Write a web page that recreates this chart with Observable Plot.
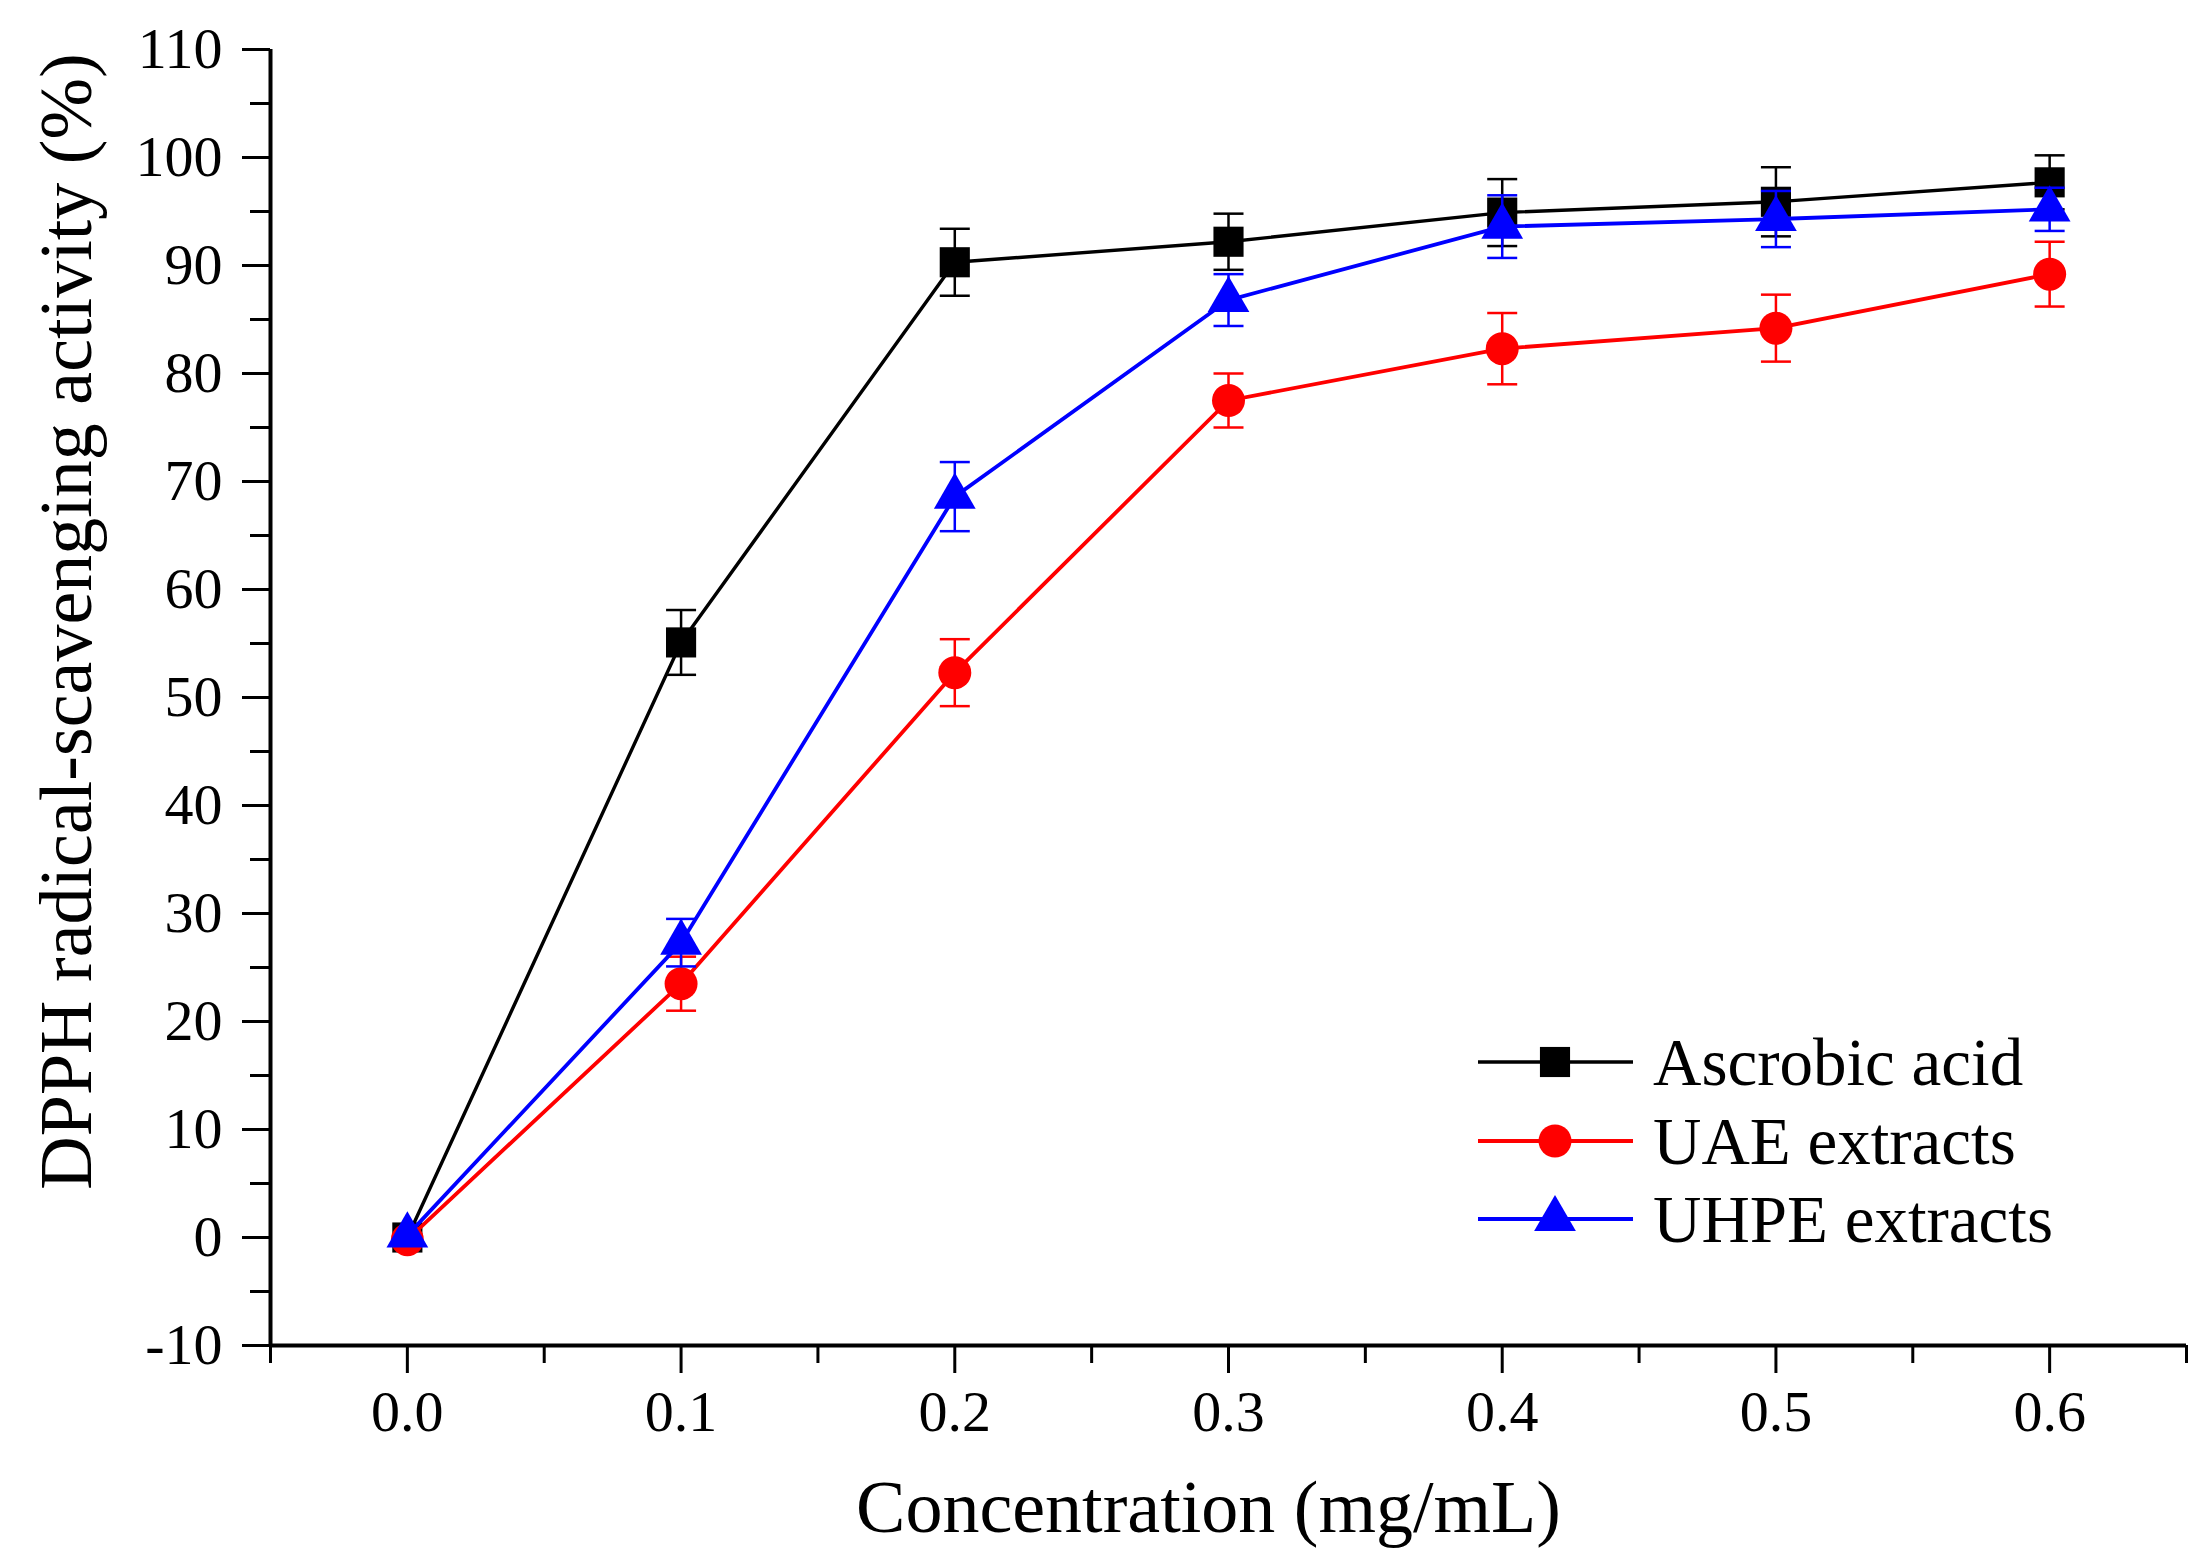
<!DOCTYPE html>
<html><head><meta charset="utf-8">
<script src="https://cdn.jsdelivr.net/npm/d3@7"></script>
<script src="https://cdn.jsdelivr.net/npm/@observablehq/plot@0.6"></script>
<style>
body{margin:0;background:#fff;}
#wrap{position:relative;width:2197px;height:1561px;font-family:"Liberation Serif","Times New Roman",serif;}
#legend{position:absolute;left:0;top:0;}
</style></head><body><div id="wrap"></div>
<script>
// ---- data ----
const concentration = [0, 0.1, 0.2, 0.3, 0.4, 0.5, 0.6];
const ascorbic    = [0, 55.1, 90.3, 92.2, 94.9, 95.9, 97.7];
const ascorbicErr = [0, 3.0, 3.1, 2.6, 3.1, 3.2, 2.5];
const uae         = [-0.2, 23.5, 52.3, 77.5, 82.3, 84.2, 89.2];
const uaeErr      = [0, 2.5, 3.1, 2.5, 3.3, 3.1, 3.0];
const uhpe        = [0.2, 27.3, 68.6, 86.8, 93.6, 94.3, 95.2];
const uhpeErr     = [0, 2.2, 3.2, 2.4, 2.9, 2.6, 2.0];
const seriesNames = ["Ascrobic acid", "UAE extracts", "UHPE extracts"];
const xTicks = [0, 0.1, 0.2, 0.3, 0.4, 0.5, 0.6];
const xMinorTicks = [-0.05, 0.05, 0.15, 0.25, 0.35, 0.45, 0.55, 0.65];
const yTicks = [-10, 0, 10, 20, 30, 40, 50, 60, 70, 80, 90, 100, 110];
const yMinorTicks = [-5, 5, 15, 25, 35, 45, 55, 65, 75, 85, 95, 105];
const xDomain = [-0.05, 0.65];
const yDomain = [-10, 110];

const styles = [
  {color: "#000000", symbol: "square", r: 17, width: 3.4},
  {color: "#ff0000", symbol: "circle", r: 16.5, width: 3.8},
  {color: "#0000ff", symbol: "triangle", r: 15.5, width: 3.8}
];
const valueSets = [[ascorbic, ascorbicErr], [uae, uaeErr], [uhpe, uhpeErr]];
const series = seriesNames.map((name, k) => ({
  name, ...styles[k],
  rows: concentration.map((c, i) => ({
    x: c, y: valueSets[k][0][i], lo: valueSets[k][0][i] - valueSets[k][1][i], hi: valueSets[k][0][i] + valueSets[k][1][i], err: valueSets[k][1][i]
  }))
}));

const capSymbol = {draw(ctx) { ctx.moveTo(-15, 0); ctx.lineTo(15, 0); }};

const marks = [];
for (const s of series) {
  const withErr = s.rows.filter(d => d.err > 0);
  marks.push(Plot.ruleX(withErr, {x: "x", y1: "lo", y2: "hi", stroke: s.color, strokeWidth: 2.5}));
  marks.push(Plot.dot(withErr, {x: "x", y: "hi", symbol: capSymbol, stroke: s.color, strokeWidth: 2.5, fill: "none"}));
  marks.push(Plot.dot(withErr, {x: "x", y: "lo", symbol: capSymbol, stroke: s.color, strokeWidth: 2.5, fill: "none"}));
  marks.push(Plot.line(s.rows, {x: "x", y: "y", stroke: s.color, strokeWidth: s.width}));
  marks.push(Plot.dot(s.rows, {x: "x", y: "y", symbol: s.symbol, fill: s.color, stroke: "none", r: s.r}));
}

const chart = Plot.plot({
  width: 2197, height: 1561,
  marginTop: 49, marginRight: 11, marginBottom: 216, marginLeft: 270,
  style: {fontFamily: '"Liberation Serif","Times New Roman",serif', fontSize: "58px", color: "#000", background: "#fff"},
  x: {domain: xDomain},
  y: {domain: yDomain},
  marks: [
    Plot.axisX({ticks: xMinorTicks, tickSize: 18, strokeWidth: 3, tickFormat: () => "", label: null}),
    Plot.axisY({ticks: yMinorTicks, tickSize: 20, strokeWidth: 3, tickFormat: () => "", label: null}),
    Plot.axisX({ticks: xTicks, tickSize: 28, tickPadding: 16, strokeWidth: 3, tickFormat: d3.format(".1f"),
      label: "Concentration (mg/mL)", labelAnchor: "center", labelArrow: "none", labelOffset: 186, fontSize: 58}),
    Plot.axisY({ticks: yTicks, tickSize: 28, tickPadding: 20, strokeWidth: 3, tickFormat: d => String(d),
      label: "DPPH radical-scavenging activity (%)", labelAnchor: "center", labelArrow: "none", labelOffset: 232, fontSize: 58}),
    Plot.ruleY([yDomain[0]], {strokeWidth: 4}),
    Plot.ruleX([xDomain[0]], {strokeWidth: 4}),
    ...marks
  ]
});
document.getElementById("wrap").appendChild(chart);
// axis titles: larger type, shifted to match the original placement
const labels = d3.select(chart).selectAll('[aria-label$="axis label"] text');
labels.style("font-size", "74px");
d3.select(chart).selectAll('[aria-label="x-axis label"] text').attr("dx", -20);
d3.select(chart).selectAll('[aria-label="y-axis label"] text').attr("dx", 76);

// legend
const lg = d3.select("#wrap").append("svg").attr("id", "legend").attr("width", 2197).attr("height", 1561);
const rowY = [1062, 1141, 1219];
series.forEach((s, k) => {
  const g = lg.append("g");
  g.append("line").attr("x1", 1478).attr("x2", 1633).attr("y1", rowY[k]).attr("y2", rowY[k]).attr("stroke", s.color).attr("stroke-width", s.width);
  const sym = {square: d3.symbolSquare, circle: d3.symbolCircle, triangle: d3.symbolTriangle}[s.symbol];
  g.append("path").attr("d", d3.symbol(sym, Math.PI * s.r * s.r)()).attr("transform", `translate(1555,${rowY[k]})`).attr("fill", s.color);
  g.append("text").attr("x", 1653).attr("y", rowY[k]).attr("dy", "0.35em").attr("font-size", 67)
    .attr("font-family", '"Liberation Serif","Times New Roman",serif').text(s.name);
});
</script></body></html>
